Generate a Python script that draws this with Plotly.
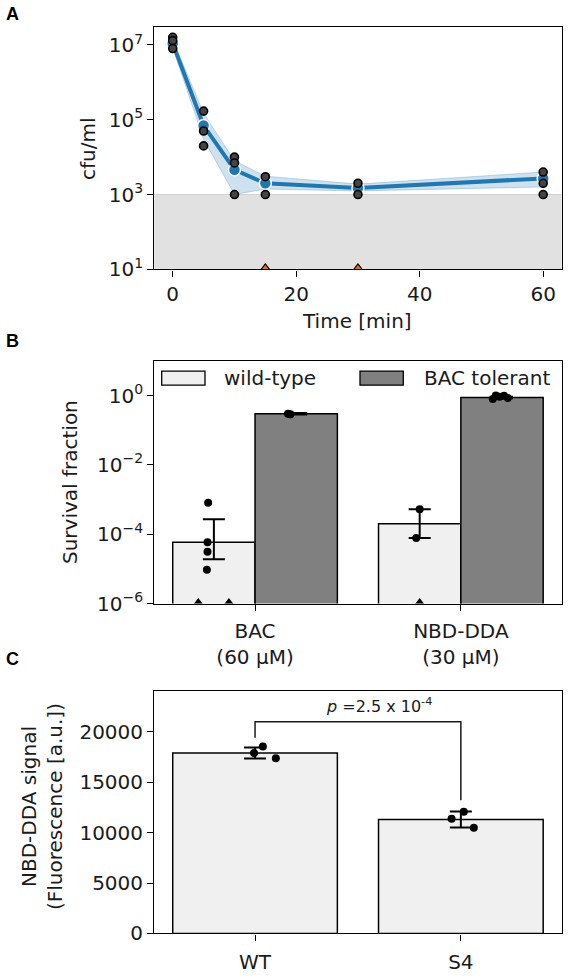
import plotly.graph_objects as go

FONT = "DejaVu Sans"
FS = 20
TXT = "#1a1a1a"

# ---------------- Panel A: time-kill curve ----------------
time_min = [0, 5, 10, 15, 30, 60]
cfu_mean = [1.1e7, 7.0e4, 4.6e3, 2.0e3, 1.5e3, 2.7e3]
cfu_ci_low = [8.5e6, 3.0e4, 1.0e3, 1.4e3, 1.25e3, 1.6e3]
cfu_ci_high = [1.4e7, 1.5e5, 8.0e3, 3.1e3, 1.9e3, 4.0e3]
rep_time = [0, 0, 0, 5, 5, 5, 10, 10, 10, 15, 15, 30, 30, 60, 60, 60]
rep_cfu = [1.6e7, 1.3e7, 8.0e6, 1.7e5, 5.0e4, 2.0e4, 1.0e4, 7.0e3, 1.0e3,
           3.0e3, 1.0e3, 2.0e3, 1.0e3, 4.0e3, 2.0e3, 1.0e3]
zero_time = [15, 30]
detection_limit = 1e3
A_xrange = [-3, 63]
A_ylog = [1, 7.48]
A_yticks = [1e1, 1e3, 1e5, 1e7]
A_yticktext = ["10<sup>1</sup>", "10<sup>3</sup>", "10<sup>5</sup>", "10<sup>7</sup>"]
A_xticks = [0, 20, 40, 60]

# ---------------- Panel B: survival fraction ----------------
treatments = ["BAC<br>(60 µM)", "NBD-DDA<br>(30 µM)"]
wt_mean = [5.9e-5, 2.0e-4]
wt_err_plus = [2.1e-4, 3.2e-4]
wt_err_minus = [4.0e-5, 1.23e-4]
tol_mean = [0.30, 0.88]
tol_err = [0.015, 0.05]
wt_rep_group = [0, 0, 0, 0, 1, 1]
wt_rep_offset = [-0.028, -0.031, -0.031, -0.034, 0.0, -0.017]
wt_rep_value = [8.1e-4, 5.9e-5, 3.1e-5, 9.5e-6, 5.2e-4, 7.7e-5]
wt_zero_group = [0, 0, 1]
wt_zero_offset = [-0.076, 0.073, 0.0]
tol_rep_group = [0, 0, 1, 1, 1, 1, 1]
tol_rep_offset = [-0.04, -0.028, -0.045, -0.03, -0.012, 0.01, 0.028]
tol_rep_value = [0.30, 0.29, 0.80, 1.0, 0.92, 0.98, 0.85]
B_ylog = [-6, 0.99]
B_yticks = [1e-6, 1e-4, 1e-2, 1e0]
B_yticktext = ["10<sup>−6</sup>", "10<sup>−4</sup>", "10<sup>−2</sup>", "10<sup>0</sup>"]
group_shift = 0.2
bar_w_B = 0.4

# ---------------- Panel C: NBD-DDA signal ----------------
strains = ["WT", "S4"]
signal_mean = [17900, 11300]
signal_err = [540, 800]
sig_rep_group = [0, 0, 0, 1, 1, 1]
sig_rep_offset = [-0.005, 0.038, 0.101, -0.045, 0.014, 0.063]
sig_rep_value = [17900, 18530, 17380, 11370, 12060, 10490]
bracket_top = 21000
bracket_left_bottom = 19400
bracket_right_bottom = 13200
p_text = "<i>p</i> =2.5 x 10<sup>-4</sup>"
C_yrange = [0, 24000]
C_yticks = [0, 5000, 10000, 15000, 20000]

WT_COLOR = "#f0f0f0"
TOL_COLOR = "#808080"
BLUE = "#1f77b4"

fig = go.Figure()

# ---- A traces ----
fig.add_trace(go.Scatter(x=A_xrange, y=[10 ** A_ylog[0]] * 2, mode="lines",
                         line=dict(width=0, color="#e1e1e1"), showlegend=False,
                         xaxis="x", yaxis="y", hoverinfo="skip"))
fig.add_trace(go.Scatter(x=A_xrange, y=[detection_limit] * 2, mode="lines",
                         line=dict(width=1, color="#d2d2d2"), fill="tonexty",
                         fillcolor="#e1e1e1", showlegend=False,
                         xaxis="x", yaxis="y", hoverinfo="skip"))
fig.add_trace(go.Scatter(x=time_min, y=cfu_ci_low, mode="lines",
                         line=dict(width=1, color="rgba(31,119,180,0.25)"),
                         showlegend=False, xaxis="x", yaxis="y"))
fig.add_trace(go.Scatter(x=time_min, y=cfu_ci_high, mode="lines",
                         line=dict(width=1, color="rgba(31,119,180,0.25)"),
                         fill="tonexty", fillcolor="rgba(31,119,180,0.22)",
                         showlegend=False, xaxis="x", yaxis="y"))
fig.add_trace(go.Scatter(x=time_min, y=cfu_mean, mode="lines+markers",
                         line=dict(width=4, color=BLUE),
                         marker=dict(size=12, color=BLUE, line=dict(width=1.5, color="white")),
                         showlegend=False, xaxis="x", yaxis="y"))
fig.add_trace(go.Scatter(x=rep_time, y=rep_cfu, mode="markers",
                         marker=dict(size=8, color="#444444", line=dict(width=1.6, color="black")),
                         showlegend=False, xaxis="x", yaxis="y"))
fig.add_trace(go.Scatter(x=zero_time, y=[10 ** A_ylog[0]] * len(zero_time), mode="markers",
                         marker=dict(size=11, symbol="triangle-up", color="#e07020",
                                     line=dict(width=1.2, color="black")),
                         showlegend=False, xaxis="x", yaxis="y"))

# ---- B traces ----
idx = list(range(len(treatments)))
fig.add_trace(go.Bar(x=[i - group_shift for i in idx], y=wt_mean, width=bar_w_B,
                     marker=dict(color=WT_COLOR, line=dict(color="black", width=1.5)),
                     error_y=dict(type="data", symmetric=False, array=wt_err_plus,
                                  arrayminus=wt_err_minus, color="black", thickness=2, width=11),
                     showlegend=False, xaxis="x2", yaxis="y2"))
fig.add_trace(go.Bar(x=[i + group_shift for i in idx], y=tol_mean, width=bar_w_B,
                     marker=dict(color=TOL_COLOR, line=dict(color="black", width=1.5)),
                     error_y=dict(type="data", array=tol_err, color="black", thickness=2, width=11),
                     showlegend=False, xaxis="x2", yaxis="y2"))
fig.add_trace(go.Scatter(x=[g - group_shift + o for g, o in zip(wt_rep_group, wt_rep_offset)],
                         y=wt_rep_value, mode="markers",
                         marker=dict(size=8, color="black"), showlegend=False,
                         xaxis="x2", yaxis="y2"))
fig.add_trace(go.Scatter(x=[g + group_shift + o for g, o in zip(tol_rep_group, tol_rep_offset)],
                         y=tol_rep_value, mode="markers",
                         marker=dict(size=8, color="black"), showlegend=False,
                         xaxis="x2", yaxis="y2"))
fig.add_trace(go.Scatter(x=[g - group_shift + o for g, o in zip(wt_zero_group, wt_zero_offset)],
                         y=[10 ** B_ylog[0]] * len(wt_zero_group), mode="markers",
                         marker=dict(size=11, symbol="triangle-up", color="black"),
                         showlegend=False, xaxis="x2", yaxis="y2"))

# ---- C traces ----
idxc = list(range(len(strains)))
fig.add_trace(go.Bar(x=idxc, y=signal_mean, width=0.8,
                     marker=dict(color=WT_COLOR, line=dict(color="black", width=1.5)),
                     error_y=dict(type="data", array=signal_err, color="black", thickness=2, width=11),
                     showlegend=False, xaxis="x3", yaxis="y3"))
fig.add_trace(go.Scatter(x=[g + o for g, o in zip(sig_rep_group, sig_rep_offset)],
                         y=sig_rep_value, mode="markers",
                         marker=dict(size=8, color="black"), showlegend=False,
                         xaxis="x3", yaxis="y3"))
fig.add_trace(go.Scatter(x=[idxc[0], idxc[0], idxc[1], idxc[1]],
                         y=[bracket_left_bottom, bracket_top, bracket_top, bracket_right_bottom],
                         mode="lines", line=dict(color="#1a1a1a", width=1.5),
                         showlegend=False, xaxis="x3", yaxis="y3"))

W, H = 569, 980
xdom = [154.2 / W, 561.7 / W]


def ydom(top, bottom):
    return [1 - bottom / H, 1 - top / H]


axis_common = dict(showline=True, linecolor="black", linewidth=1.3, mirror=True,
                   ticks="outside", ticklen=6, tickwidth=1.3, tickcolor="black",
                   showgrid=False, zeroline=False,
                   tickfont=dict(family=FONT, size=FS, color=TXT))

fig.update_layout(
    width=W, height=H, margin=dict(l=0, r=0, t=0, b=0),
    paper_bgcolor="white", plot_bgcolor="white", barmode="overlay",
    font=dict(family=FONT, size=FS, color=TXT),
    xaxis=dict(domain=xdom, anchor="y", range=A_xrange, tickvals=A_xticks, **axis_common),
    yaxis=dict(domain=ydom(27.3, 272.7), anchor="x", type="log", range=A_ylog,
               tickvals=A_yticks, ticktext=A_yticktext, **axis_common),
    xaxis2=dict(domain=xdom, anchor="y2", range=[-0.49, 1.49], tickvals=idx,
                ticktext=treatments, ticklabelstandoff=3, **axis_common),
    yaxis2=dict(domain=ydom(365.7, 611), anchor="x2", type="log", range=B_ylog,
                tickvals=B_yticks, ticktext=B_yticktext, **axis_common),
    xaxis3=dict(domain=xdom, anchor="y3", range=[-0.49, 1.49], tickvals=idxc,
                ticktext=strains, ticklabelstandoff=4, **axis_common),
    yaxis3=dict(domain=ydom(700, 945), anchor="x3", range=C_yrange,
                tickvals=C_yticks, tickformat="d", **axis_common),
)

# legend for panel B (drawn as paper shapes + text)
legend_items = [("wild-type", WT_COLOR, 161.7, 221.7), ("BAC tolerant", TOL_COLOR, 360, 421.7)]
for label, col, sx, tx in legend_items:
    fig.add_shape(type="rect", xref="paper", yref="paper",
                  x0=sx / W, x1=(sx + 43.3) / W, y0=1 - 390 / H, y1=1 - 375.7 / H,
                  fillcolor=col, line=dict(color="black", width=1.3))
    fig.add_annotation(text=label, xref="paper", yref="paper", x=tx / W, y=1 - 383 / H,
                       xanchor="left", yanchor="middle", showarrow=False,
                       font=dict(family=FONT, size=FS, color=TXT))

# p-value text
fig.add_annotation(text=p_text, xref="x3", yref="y3", x=0.6, y=bracket_top, yshift=4,
                   xanchor="center", yanchor="bottom", showarrow=False,
                   font=dict(family=FONT, size=16, color=TXT))

# axis titles
titles = [
    ("cfu/ml", 87.8, 150, -90),
    ("Time [min]", 357.4, 325, 0),
    ("Survival fraction", 70, 488, -90),
    ("NBD-DDA signal<br>(Fluorescence [a.u.])", 42, 817, -90),
]
for t, x, y, ang in titles:
    fig.add_annotation(text=t, xref="paper", yref="paper", x=x / W, y=1 - y / H,
                       xanchor="center", yanchor="middle", showarrow=False, textangle=ang,
                       font=dict(family=FONT, size=FS, color=TXT))

# panel letters
for t, x, y in [("A", 12, 14), ("B", 12, 345), ("C", 12, 667)]:
    fig.add_annotation(text="<b>" + t + "</b>", xref="paper", yref="paper", x=x / W, y=1 - y / H,
                       xanchor="center", yanchor="middle", showarrow=False,
                       font=dict(family="Liberation Sans", size=18, color="black"))

fig.write_html("out.html", config={"displayModeBar": False},
               post_script="document.body.style.margin='0';")
